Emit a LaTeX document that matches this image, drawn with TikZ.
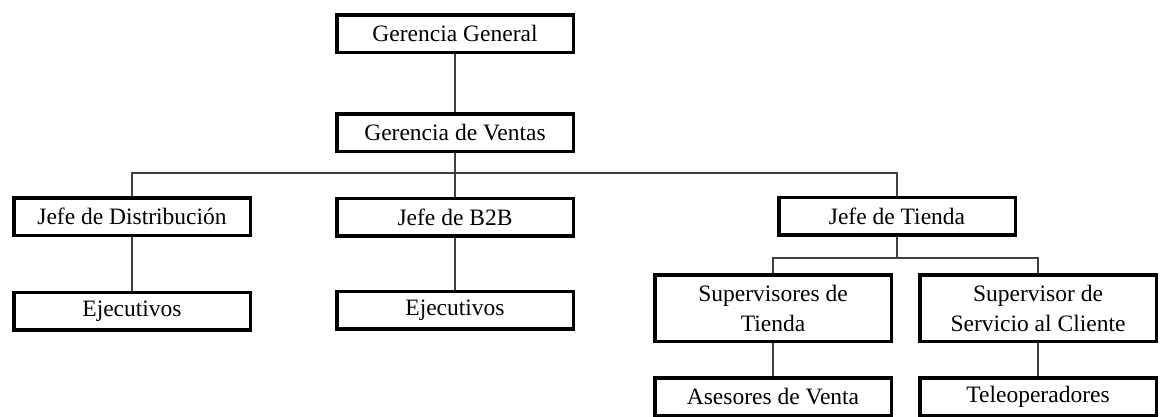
\documentclass[tikz,border=0pt]{standalone}
\usepackage{fontspec}
\setmainfont{Liberation Serif}
\usetikzlibrary{positioning}
\tikzset{org/.style={rectangle,draw,line width=3.5pt,minimum width=236.5pt,minimum height=37.5pt,inner sep=0pt,font=\fontsize{23.5}{30}\selectfont,align=center}}
\tikzset{orgtall/.style={org,minimum height=66.5pt}}
\tikzset{link/.style={line width=1.2pt,draw=black!75}}

\begin{document}
\begin{tikzpicture}[x=1pt,y=-1pt]
    \useasboundingbox (0,0) rectangle (1166,416);

    \node[org] (gg) at (455,33.5) {Gerencia General};
    \node[org] (gv) at (455,132.5) {Gerencia de Ventas};
    \node[org] (jd) at (132,216.5) {Jefe de Distribución};
    \node[org] (jb) at (455,217) {Jefe de B2B};
    \node[org] (jt) at (897,216) {Jefe de Tienda};
    \node[org] (ej1) at (132,311) {Ejecutivos};
    \node[org] (ej2) at (455,310) {Ejecutivos};
    \node[orgtall] (st) at (773,308) {Supervisores de\\Tienda};
    \node[orgtall] (ss) at (1038,308) {Supervisor de\\Servicio al Cliente};
    \node[org] (av) at (773,396.5) {Asesores de Venta};
    \node[org] (tel) at (1038,396.5) {Teleoperadores};

    \coordinate (bus) at (455,173);
    \coordinate (bus2) at (897,258);

    \draw [link] (gg) -- (gv);
    \draw [link] (gv) -- (jb);
    \draw [link] (jd.north) |- (bus) -| (jt.north);
    \draw [link] (jd) -- (ej1);
    \draw [link] (jb) -- (ej2);
    \draw [link] (jt) -- (bus2);
    \draw [link] (st.north) |- (bus2) -| (ss.north);
    \draw [link] (st) -- (av);
    \draw [link] (ss) -- (tel);
\end{tikzpicture}
\end{document}
